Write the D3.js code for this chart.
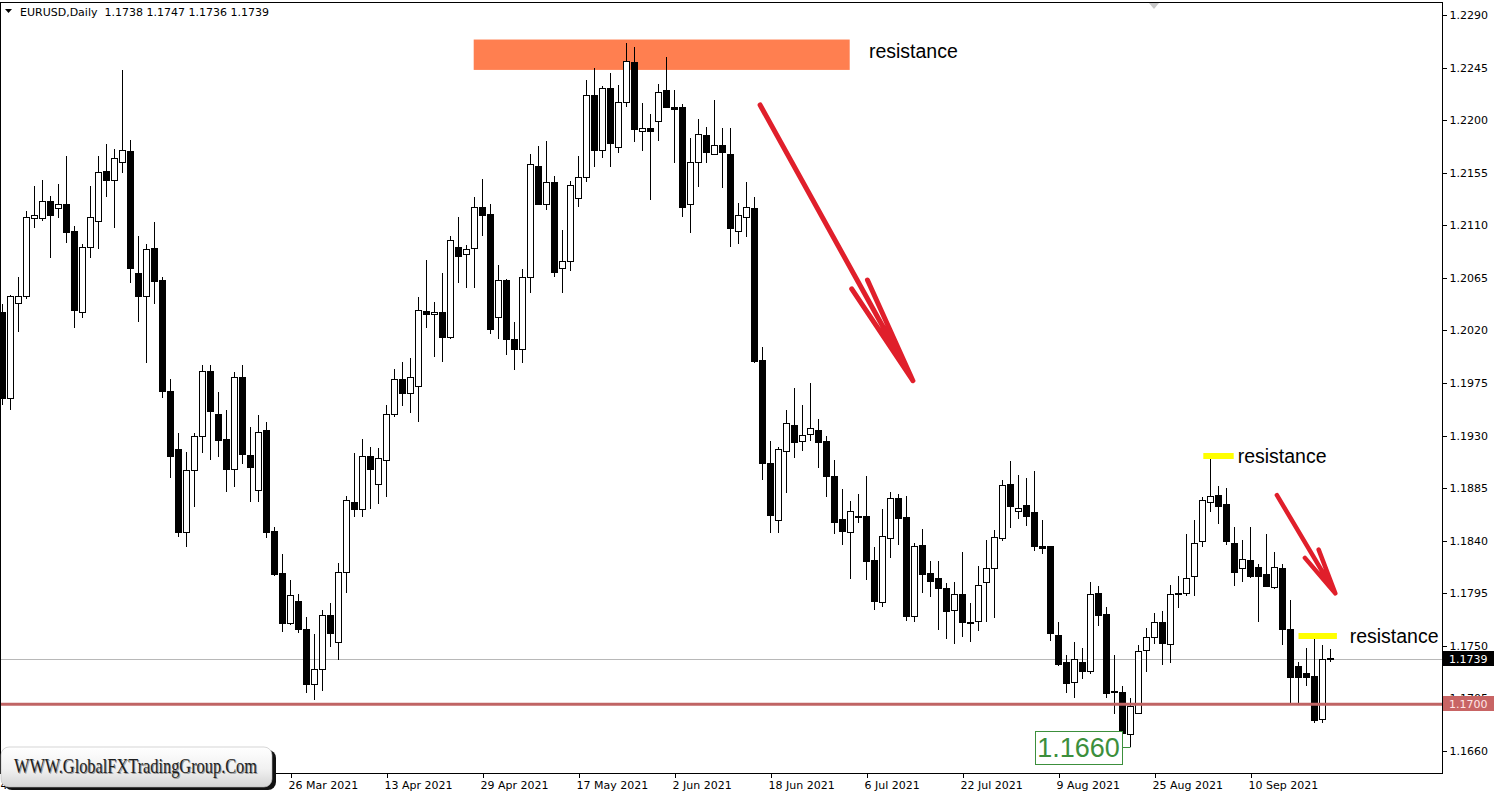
<!DOCTYPE html>
<html><head><meta charset="utf-8">
<script src="https://cdn.jsdelivr.net/npm/d3@7"></script>
<style>html,body{margin:0;padding:0;background:#fff;overflow:hidden}</style>
</head><body>
<svg id="c" width="1496" height="791"></svg>
<script>
// ---------------- data ----------------
const symbolName = "EURUSD,Daily";
const headerOHLC = ["1.1738", "1.1747", "1.1736", "1.1739"];
const firstTradingDay = "2021-02-04";
const open = [1.2035,1.1962,1.2043,1.2049,1.2116,1.2116,1.2130,1.2124,1.2128,1.2105,
1.2035,1.2091,1.2113,1.2156,1.2148,1.2164,1.2173,1.2069,1.2049,1.2090,
1.2063,1.1968,1.1918,1.1847,1.1900,1.1929,1.1985,1.1948,1.1927,1.1901,
1.1980,1.1913,1.1883,1.1934,1.1848,1.1812,1.1769,1.1788,1.1764,1.1717,
1.1730,1.1776,1.1753,1.1813,1.1873,1.1867,1.1912,1.1888,1.1909,1.1948,
1.1978,1.1966,1.1972,1.2036,1.2034,1.2035,1.2014,1.2091,1.2085,1.2090,
1.2125,1.2119,1.2031,1.2063,1.2012,1.2004,1.2065,1.2160,1.2128,1.2147,
1.2073,1.2079,1.2133,1.2151,1.2221,1.2174,1.2227,1.2177,1.2215,1.2249,
1.2190,1.2193,1.2199,1.2225,1.2211,1.2211,1.2128,1.2164,1.2187,1.2171,
1.2178,1.2171,1.2105,1.2117,1.2124,1.1994,1.1906,1.1857,1.1916,1.1939,
1.1925,1.1931,1.1934,1.1925,1.1895,1.1858,1.1847,1.1861,1.1861,1.1823,
1.1787,1.1842,1.1876,1.1860,1.1775,1.1836,1.1812,1.1808,1.1799,1.1780,
1.1794,1.1770,1.1771,1.1804,1.1816,1.1842,1.1888,1.1865,1.1870,1.1864,
1.1835,1.1835,1.1759,1.1736,1.1719,1.1736,1.1728,1.1795,1.1777,1.1710,
1.1710,1.1674,1.1692,1.1746,1.1757,1.1770,1.1751,1.1794,1.1795,1.1809,
1.1839,1.1873,1.1879,1.1871,1.1838,1.1816,1.1823,1.1817,1.1811,1.1800,
1.1816,1.1764,1.1732,1.1726,1.1724,1.1687,1.1738];
const high = [1.2043,1.2050,1.2066,1.2122,1.2144,1.2149,1.2135,1.2145,1.2169,1.2109,
1.2094,1.2144,1.2169,1.2180,1.2175,1.2243,1.2183,1.2101,1.2094,1.2113,
1.2066,1.1978,1.1932,1.1916,1.1932,1.1990,1.1990,1.1967,1.1952,1.1984,
1.1990,1.1937,1.1948,1.1942,1.1852,1.1829,1.1806,1.1794,1.1775,1.1760,
1.1781,1.1787,1.1821,1.1878,1.1915,1.1927,1.1920,1.1919,1.1956,1.1987,
1.1993,1.1996,1.2049,1.2080,1.2044,1.2069,1.2101,1.2117,1.2093,1.2134,
1.2150,1.2128,1.2076,1.2064,1.2027,1.2073,1.2171,1.2178,1.2182,1.2152,
1.2106,1.2148,1.2169,1.2234,1.2245,1.2229,1.2240,1.2230,1.2266,1.2263,
1.2215,1.2205,1.2231,1.2254,1.2226,1.2214,1.2185,1.2201,1.2194,1.2217,
1.2193,1.2193,1.2129,1.2147,1.2134,1.2006,1.1925,1.1920,1.1952,1.1971,
1.1956,1.1975,1.1944,1.1930,1.1909,1.1884,1.1874,1.1880,1.1895,1.1835,
1.1867,1.1882,1.1880,1.1878,1.1838,1.1850,1.1823,1.1823,1.1804,1.1805,
1.1830,1.1787,1.1818,1.1841,1.1849,1.1892,1.1908,1.1896,1.1894,1.1900,
1.1858,1.1835,1.1770,1.1742,1.1753,1.1748,1.1805,1.1801,1.1783,1.1742,
1.1716,1.1705,1.1751,1.1765,1.1778,1.1780,1.1802,1.1810,1.1846,1.1858,
1.1877,1.1910,1.1887,1.1885,1.1852,1.1841,1.1852,1.1820,1.1846,1.1830,
1.1820,1.1789,1.1736,1.1748,1.1756,1.1751,1.1747];
const low = [1.1956,1.1952,1.2019,1.2047,1.2108,1.2114,1.2082,1.2116,1.2095,1.2022,
1.2031,1.2082,1.2090,1.2134,1.2108,1.2155,1.2061,1.2027,1.1992,1.2043,
1.1962,1.1894,1.1843,1.1835,1.1869,1.1915,1.1909,1.1912,1.1882,1.1886,
1.1906,1.1873,1.1873,1.1842,1.1810,1.1762,1.1768,1.1761,1.1710,1.1704,
1.1711,1.1749,1.1738,1.1795,1.1860,1.1860,1.1867,1.1871,1.1877,1.1946,
1.1955,1.1949,1.1942,1.2022,1.1997,1.1993,1.2013,1.2061,1.2056,1.2056,
1.2101,1.2017,1.2013,1.1999,1.1986,1.1992,1.2052,1.2127,1.2123,1.2066,
1.2052,1.2071,1.2126,1.2147,1.2160,1.2168,1.2160,1.2172,1.2211,1.2181,
1.2174,1.2132,1.2182,1.2210,1.2163,1.2117,1.2103,1.2143,1.2163,1.2170,
1.2142,1.2091,1.2094,1.2100,1.1992,1.1892,1.1847,1.1847,1.1881,1.1911,
1.1917,1.1925,1.1902,1.1877,1.1846,1.1836,1.1807,1.1855,1.1806,1.1781,
1.1783,1.1825,1.1836,1.1771,1.1770,1.1795,1.1792,1.1764,1.1756,1.1752,
1.1758,1.1753,1.1763,1.1770,1.1774,1.1840,1.1851,1.1859,1.1853,1.1831,
1.1829,1.1754,1.1733,1.1710,1.1705,1.1722,1.1726,1.1767,1.1705,1.1692,
1.1667,1.1663,1.1692,1.1728,1.1752,1.1734,1.1735,1.1782,1.1793,1.1793,
1.1835,1.1865,1.1854,1.1836,1.1801,1.1805,1.1808,1.1770,1.1800,1.1799,
1.1751,1.1701,1.1701,1.1716,1.1684,1.1684,1.1736];
const close = [1.1962,1.2049,1.2049,1.2117,1.2118,1.2130,1.2118,1.2128,1.2104,1.2037,
1.2091,1.2117,1.2155,1.2148,1.2167,1.2174,1.2073,1.2049,1.2089,1.2062,
1.1968,1.1912,1.1847,1.1900,1.1929,1.1985,1.1951,1.1926,1.1901,1.1980,
1.1914,1.1903,1.1933,1.1847,1.1811,1.1769,1.1793,1.1764,1.1717,1.1730,
1.1776,1.1761,1.1813,1.1874,1.1867,1.1912,1.1901,1.1910,1.1948,1.1978,
1.1966,1.1980,1.2037,1.2034,1.2035,1.2014,1.2097,1.2083,1.2089,1.2125,
1.2118,1.2021,1.2063,1.2012,1.2004,1.2065,1.2162,1.2128,1.2147,1.2070,
1.2079,1.2144,1.2151,1.2221,1.2174,1.2227,1.2180,1.2215,1.2250,1.2192,
1.2193,1.2190,1.2224,1.2211,1.2209,1.2125,1.2164,1.2188,1.2172,1.2178,
1.2172,1.2107,1.2118,1.2125,1.1993,1.1906,1.1862,1.1918,1.1940,1.1924,
1.1930,1.1936,1.1924,1.1895,1.1856,1.1848,1.1865,1.1861,1.1822,1.1788,
1.1844,1.1876,1.1859,1.1775,1.1835,1.1811,1.1805,1.1799,1.1779,1.1794,
1.1770,1.1769,1.1802,1.1816,1.1843,1.1887,1.1869,1.1868,1.1861,1.1835,
1.1833,1.1761,1.1734,1.1718,1.1738,1.1728,1.1794,1.1776,1.1709,1.1711,
1.1675,1.1698,1.1745,1.1757,1.1770,1.1752,1.1794,1.1795,1.1808,1.1838,
1.1874,1.1878,1.1869,1.1839,1.1813,1.1824,1.1809,1.1809,1.1801,1.1817,
1.1764,1.1723,1.1723,1.1723,1.1686,1.1738,1.1739];
const priceTicks = [1.2290,1.2245,1.2200,1.2155,1.2110,1.2065,1.2020,1.1975,1.1930,1.1885,1.1840,1.1795,1.1750,1.1705,1.1660];
const dateLabelEvery = 12;
const currentPrice = 1.1739;
const supportLevel = 1.1700;
const lowMarkerText = "1.1660";
const lowMarkerBar = 141;
const resistanceText = "resistance";
const watermarkText = "WWW.GlobalFXTradingGroup.Com";
// annotations in (bar index, price) coordinates
const zoneBox = {i0: 58.9, i1: 105.9, top: 1.2269, bottom: 1.2243};
const zoneLabel = {i: 108.3, p: 1.2259};
const levelMarks = [{i0: 150.1, i1: 153.9, p: 1.19125, li: 154.4}, {i0: 162.0, i1: 166.8, p: 1.17585, li: 168.4}];
const arrows = [{i0: 94.7, p0: 1.2213, i1: 113.8, p1: 1.1977, head: 110, spread: 9, w: 5},
                {i0: 159.3, p0: 1.1879, i1: 166.6, p1: 1.1795, head: 46, spread: 8, w: 4.5}];

// ---------------- build ----------------
const months = ["Jan","Feb","Mar","Apr","May","Jun","Jul","Aug","Sep","Oct","Nov","Dec"];
const dates = [];
{ let d = new Date(firstTradingDay + "T12:00:00Z");
  while (dates.length < open.length) {
    const wd = d.getUTCDay();
    if (wd !== 0 && wd !== 6) dates.push(new Date(d));
    d.setUTCDate(d.getUTCDate() + 1);
  } }
const bars = open.map((o, i) => ({i, o, h: high[i], l: low[i], c: close[i], date: dates[i]}));

const W = 1496, H = 791;
const plotR = 1442, plotB = 773, plotT = 2;
const x = d3.scaleLinear().domain([0, 166]).range([2.5, 1330.5]);
const y = d3.scaleLinear().domain([1.1660, 1.2290]).range([751, 15]);

const svg = d3.select("#c");
svg.append("rect").attr("width", W).attr("height", H).attr("fill", "#fff");

const defs = svg.append("defs");
defs.append("clipPath").attr("id", "plot").append("rect")
  .attr("x", 1).attr("y", plotT + 1).attr("width", plotR - 1).attr("height", plotB - plotT - 1);
const g = defs.append("linearGradient").attr("id", "wm").attr("x1", 0).attr("y1", 0).attr("x2", 0).attr("y2", 1);
g.append("stop").attr("offset", "0%").attr("stop-color", "#ffffff");
g.append("stop").attr("offset", "55%").attr("stop-color", "#f1f1f1");
g.append("stop").attr("offset", "100%").attr("stop-color", "#d4d4d4");

const plot = svg.append("g").attr("clip-path", "url(#plot)");

// orange resistance zone
plot.append("rect")
  .attr("x", x(zoneBox.i0)).attr("y", y(zoneBox.top))
  .attr("width", x(zoneBox.i1) - x(zoneBox.i0)).attr("height", y(zoneBox.bottom) - y(zoneBox.top))
  .attr("fill", "#ff7f50");

// current price line
plot.append("line").attr("x1", 0).attr("x2", plotR)
  .attr("y1", Math.round(y(currentPrice)) + 0.5).attr("y2", Math.round(y(currentPrice)) + 0.5)
  .attr("stroke", "#b8b8b8").attr("stroke-width", 1);

// candles
const cg = plot.append("g").attr("shape-rendering", "crispEdges");
cg.selectAll("line.w").data(bars).join("line")
  .attr("x1", d => x(d.i)).attr("x2", d => x(d.i))
  .attr("y1", d => y(d.h)).attr("y2", d => y(d.l))
  .attr("stroke", "#000").attr("stroke-width", 1);
cg.selectAll("rect.b").data(bars).join("rect")
  .attr("x", d => x(d.i) - 3).attr("width", 6)
  .attr("y", d => y(Math.max(d.o, d.c)))
  .attr("height", d => Math.max(1, Math.abs(y(d.o) - y(d.c))))
  .attr("fill", d => d.c >= d.o ? "#fff" : "#000")
  .attr("stroke", "#000").attr("stroke-width", 1);

// support line 1.1700
plot.append("line").attr("x1", 0).attr("x2", plotR)
  .attr("y1", y(supportLevel)).attr("y2", y(supportLevel))
  .attr("stroke", "#c06464").attr("stroke-width", 3);

// yellow resistance marks + labels
levelMarks.forEach(m => {
  plot.append("line").attr("x1", x(m.i0)).attr("x2", x(m.i1))
    .attr("y1", y(m.p)).attr("y2", y(m.p))
    .attr("stroke", "#ffff00").attr("stroke-width", 6);
  svg.append("text").attr("x", x(m.li)).attr("y", y(m.p)).attr("dy", "0.36em")
    .attr("font-family", "Liberation Sans, Arial, sans-serif").attr("font-size", 19.5)
    .attr("fill", "#000").text(resistanceText);
});
svg.append("text").attr("x", x(zoneLabel.i)).attr("y", y(zoneLabel.p)).attr("dy", "0.36em")
  .attr("font-family", "Liberation Sans, Arial, sans-serif").attr("font-size", 19.5)
  .attr("fill", "#000").text(resistanceText);

// red arrows
arrows.forEach(a => {
  const sx = x(a.i0), sy = y(a.p0), tx = x(a.i1), ty = y(a.p1);
  const len = Math.hypot(tx - sx, ty - sy), ux = (tx - sx) / len, uy = (ty - sy) / len;
  const nx = -uy, ny = ux;
  const bx = tx - ux * a.head, by = ty - uy * a.head;
  const path = d3.path();
  path.moveTo(sx, sy); path.lineTo(tx, ty);
  path.moveTo(bx + nx * a.spread, by + ny * a.spread); path.lineTo(tx, ty);
  path.lineTo(bx - nx * a.spread, by - ny * a.spread);
  plot.append("path").attr("d", path.toString()).attr("fill", "none")
    .attr("stroke", "#e01f2b").attr("stroke-width", a.w)
    .attr("stroke-linecap", "round").attr("stroke-linejoin", "round");
});

// low marker label
{
  const lx = x(lowMarkerBar), ly = y(low[lowMarkerBar]);
  const bw = 87, bh = 33, right = Math.round(lx) - 9;
  plot.append("line").attr("x1", right).attr("x2", lx).attr("y1", Math.round(ly) + 0.5).attr("y2", Math.round(ly) + 0.5)
    .attr("stroke", "#3c8f3c").attr("stroke-width", 1);
  plot.append("rect").attr("x", right - bw + 0.5).attr("y", Math.round(ly - bh / 2) + 0.5)
    .attr("width", bw).attr("height", bh).attr("fill", "#fff").attr("stroke", "#3c8f3c");
  plot.append("text").attr("x", right - bw / 2).attr("y", ly).attr("dy", "0.36em")
    .attr("text-anchor", "middle").attr("font-family", "Liberation Sans, Arial, sans-serif")
    .attr("font-size", 27).attr("fill", "#3c8f3c").text(lowMarkerText);
}

// shift marker
svg.append("path").attr("d", "M1149,3L1159,3L1154,9Z").attr("fill", "#c8c8c8");

// frame
const fr = svg.append("g").attr("shape-rendering", "crispEdges").attr("stroke", "#000");
fr.append("line").attr("x1", 0.5).attr("x2", 0.5).attr("y1", plotT).attr("y2", plotB);
fr.append("line").attr("x1", 0).attr("x2", plotR).attr("y1", plotT + 0.5).attr("y2", plotT + 0.5);
fr.append("line").attr("x1", plotR + 0.5).attr("x2", plotR + 0.5).attr("y1", plotT).attr("y2", plotB + 1);
fr.append("line").attr("x1", 0).attr("x2", plotR + 1).attr("y1", plotB + 0.5).attr("y2", plotB + 0.5);

// right price axis
const axFont = "DejaVu Sans, Verdana, sans-serif";
const yAxis = d3.axisRight(y).tickValues(priceTicks).tickFormat(d3.format(".4f")).tickSize(4).tickPadding(3);
const ya = svg.append("g").attr("transform", `translate(${plotR + 0.5},0)`).call(yAxis);
ya.select(".domain").remove();
ya.selectAll("text").attr("font-family", axFont).attr("font-size", 11).attr("fill", "#000");
ya.selectAll("line").attr("stroke", "#000").attr("shape-rendering", "crispEdges");

// price boxes on axis
function priceBox(p, bg, fg) {
  const yy = Math.round(y(p));
  svg.append("rect").attr("x", plotR + 1).attr("y", yy - 8).attr("width", 51).attr("height", 15).attr("fill", bg);
  svg.append("text").attr("x", plotR + 7).attr("y", yy).attr("dy", "0.36em")
    .attr("font-family", axFont).attr("font-size", 11).attr("fill", fg).text(d3.format(".4f")(p));
}
priceBox(currentPrice, "#000", "#fff");
priceBox(supportLevel, "#c86464", "#ffe6e6");

// bottom date axis
const tickBars = bars.filter(d => d.i % dateLabelEvery === 0);
const fmt = d => `${d.getUTCDate()} ${months[d.getUTCMonth()]} ${d.getUTCFullYear()}`;
const xa = svg.append("g").attr("shape-rendering", "crispEdges");
xa.selectAll("line").data(tickBars).join("line")
  .attr("x1", d => Math.round(x(d.i)) + 0.5).attr("x2", d => Math.round(x(d.i)) + 0.5)
  .attr("y1", plotB).attr("y2", plotB + 5).attr("stroke", "#000");
svg.append("g").selectAll("text").data(tickBars).join("text")
  .attr("x", d => x(d.i) - 2).attr("y", 789)
  .attr("font-family", axFont).attr("font-size", 11).attr("fill", "#000")
  .text(d => fmt(d.date));

// header
svg.append("path").attr("d", "M5,9L12,9L8.5,13Z").attr("fill", "#000");
svg.append("text").attr("x", 20).attr("y", 16).attr("font-family", axFont).attr("font-size", 11)
  .attr("fill", "#000").attr("xml:space", "preserve")
  .text(symbolName + "  " + headerOHLC.join(" "));

// watermark
const wm = svg.append("g");
wm.append("rect").attr("x", 4).attr("y", 750).attr("width", 272).attr("height", 40).attr("rx", 8).attr("fill", "#111");
wm.append("rect").attr("x", 1).attr("y", 747).attr("width", 271).attr("height", 40).attr("rx", 8)
  .attr("fill", "url(#wm)").attr("stroke", "#bbb").attr("stroke-width", 0.6);
wm.append("text").attr("x", 15).attr("y", 773.5).attr("font-family", "Liberation Serif, Times New Roman, serif")
  .attr("font-size", 21).attr("fill", "#9a9a9a").attr("textLength", 243).attr("lengthAdjust", "spacingAndGlyphs")
  .text(watermarkText);
wm.append("text").attr("x", 14).attr("y", 772.5).attr("font-family", "Liberation Serif, Times New Roman, serif")
  .attr("font-size", 21).attr("fill", "#1e1e1e").attr("textLength", 243).attr("lengthAdjust", "spacingAndGlyphs")
  .text(watermarkText);
</script>
</body></html>
